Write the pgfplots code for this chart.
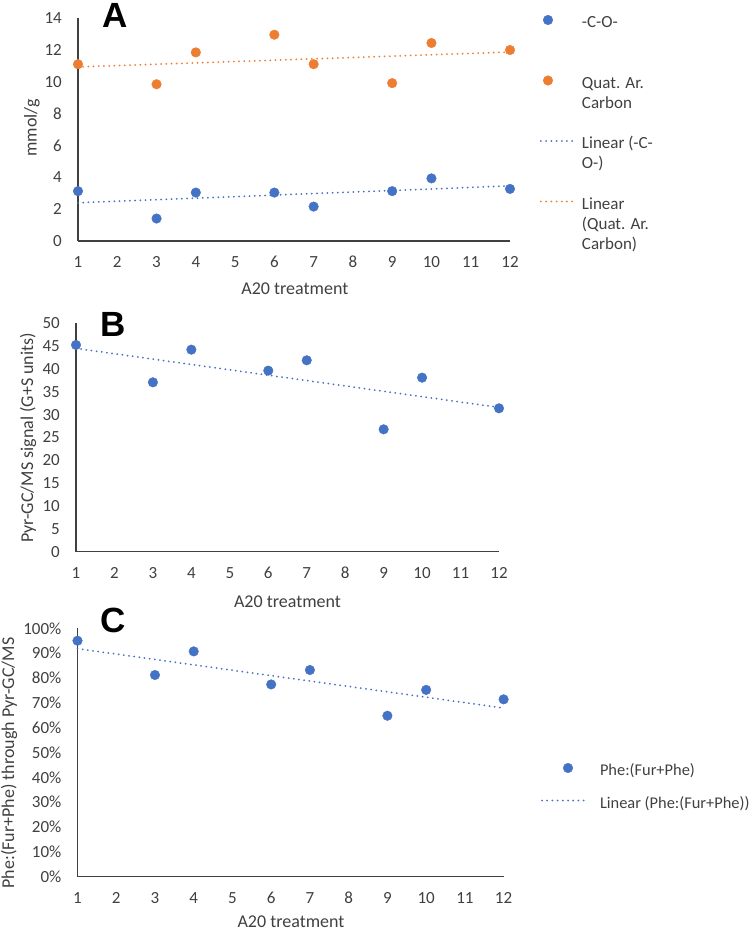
\documentclass[border=0pt]{standalone}
\usepackage{pgfplots}
\pgfplotsset{compat=1.18}
\usepackage{fontspec}
\setmainfont{Carlito}
\newfontfamily\letterfont{Liberation Sans}
\definecolor{xlblue}{HTML}{4472C4}
\definecolor{xlorange}{HTML}{ED7D31}
\definecolor{txtgray}{HTML}{404040}
\definecolor{axgray}{HTML}{404040}
\tikzset{letter/.style={font=\letterfont\bfseries\fontsize{35}{35}\selectfont, anchor=center, inner sep=0pt, text=black}}
\pgfplotsset{
  xlbase/.style={
    scale only axis,
    anchor=south west,
    clip=false,
    axis x line*=bottom,
    axis y line*=left,
    axis line style={-, draw=axgray, line width=1.2pt},
    major tick length=0pt,
    xmin=1, xmax=12,
    xtick={1,...,12},
    tick label style={font=\fontsize{17}{20}\selectfont, text=txtgray, /pgf/number format/assume math mode=true},
    xticklabel style={anchor=center, yshift=-21pt},
    yticklabel style={anchor=east, inner sep=0pt, xshift=-16pt},
    label style={font=\fontsize{18}{21}\selectfont, text=txtgray},
    xlabel={A20 treatment},
    legend style={draw=none, fill=none, inner sep=0pt, outer sep=0pt, anchor=north west,
      font=\fontsize{17}{20}\selectfont, text=txtgray, row sep=1pt,
      cells={anchor=north west, align=left, inner sep=0pt}},
  },
  dotmark/.style={only marks, mark=*, mark size=4.8pt, mark options={draw=#1, fill=#1}},
  trend/.style={draw=#1, line width=2pt, line cap=round, dash pattern=on 0pt off 5.2pt, mark=none},
  legdot/.style={legend image code/.code={\draw[##1] plot coordinates {(#1,-8.4pt)};}},
  legline/.style={legend image code/.code={\draw[##1] (0pt,-8.4pt) -- (#1,-8.4pt);}},
}
\begin{document}
\begin{tikzpicture}
\useasboundingbox (0,0) rectangle (750pt,931pt);
% ---------------- Panel A ----------------
\begin{axis}[xlbase,
  at={(78pt,690pt)}, width=432pt, height=223pt,
  ymin=0, ymax=14, ytick={0,2,...,14},
  ylabel={mmol/g},
  ylabel style={at={(axis description cs:-0.1065,0.507)}, anchor=center},
  xlabel style={at={(axis description cs:0.502,-0.215)}, anchor=center},
  legend style={at={(axis description cs:1.0694,1.0287)}, column sep=6pt},
]
\addplot[dotmark=xlblue, legdot=7pt]
  coordinates {(1,3.13) (3,1.41) (4,3.04) (6,3.04) (7,2.16) (9,3.13) (10,3.93) (12,3.27)};
\addlegendentry{\strut-C-O-\\\strut\\\strut}
\addplot[dotmark=xlorange, legdot=7pt]
  coordinates {(1,11.10) (3,9.84) (4,11.84) (6,12.95) (7,11.10) (9,9.91) (10,12.43) (12,11.99)};
\addlegendentry{\strut Quat. Ar.\\\strut Carbon\\\strut}
\addplot[trend=xlblue, legline=32pt]
  coordinates {(1,2.40) (12,3.46)};
\addlegendentry{\strut Linear (-C-\\\strut O-)\\\strut}
\addplot[trend=xlorange, legline=32pt]
  coordinates {(1,10.93) (12,11.86)};
\addlegendentry{\strut Linear\\\strut(Quat. Ar.\\\strut Carbon)}
\node[letter] at (axis description cs:0.0868,1.012) {A};
\end{axis}
% ---------------- Panel B ----------------
\begin{axis}[xlbase,
  at={(76pt,379.3pt)}, width=423pt, height=228.4pt,
  ymin=0, ymax=50, ytick={0,5,...,50},
  ylabel={Pyr-GC/MS signal (G+S units)},
  ylabel style={at={(axis description cs:-0.1135,0.498)}, anchor=center},
  xlabel style={at={(axis description cs:0.5,-0.220)}, anchor=center},
]
\addplot[dotmark=xlblue]
  coordinates {(1,45.26) (3,37.08) (4,44.23) (6,39.64) (7,41.9) (9,26.79) (10,38.10) (12,31.39)};
\addplot[trend=xlblue] coordinates {(1,44.51) (12,31.59)};
\node[letter] at (axis description cs:0.0875,0.997) {B};
\end{axis}
% ---------------- Panel C ----------------
\begin{axis}[xlbase,
  at={(77.5pt,54.3pt)}, width=426.1pt, height=248.4pt,
  ymin=0, ymax=100, ytick={0,10,...,100},
  yticklabels={0\%,10\%,20\%,30\%,40\%,50\%,60\%,70\%,80\%,90\%,100\%},
  ylabel={Phe:(Fur+Phe) through Pyr-GC/MS},
  ylabel style={at={(axis description cs:-0.1608,0.4577)}, anchor=center},
  xlabel style={at={(axis description cs:0.501,-0.182)}, anchor=center},
  legend style={at={(axis description cs:1.0878,0.4714)}, column sep=13pt, row sep=13pt,
    font=\fontsize{16.4}{20}\selectfont},
]
\addplot[dotmark=xlblue, legdot=26pt]
  coordinates {(1,95.0) (3,81.2) (4,90.7) (6,77.4) (7,83.2) (9,64.8) (10,75.2) (12,71.4)};
\addlegendentry{\strut Phe:(Fur+Phe)}
\addplot[trend=xlblue, legline=42pt]
  coordinates {(1,91.8) (12,67.9)};
\addlegendentry{\strut Linear (Phe:(Fur+Phe))}
\node[letter] at (axis description cs:0.0845,1.0334) {C};
\end{axis}
\end{tikzpicture}
\end{document}
